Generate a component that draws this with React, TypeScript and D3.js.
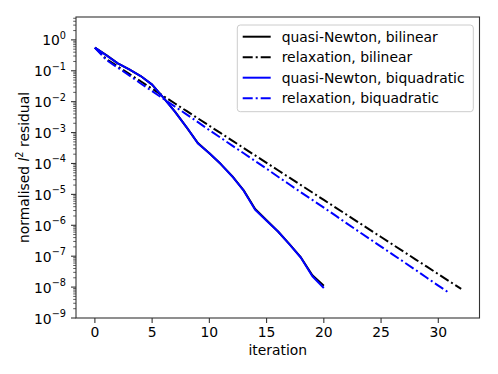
import React from "react";
import * as d3 from "d3";

// iterations and normalised l2 residuals
const qnBilinear = [
  5.62e-1, 3.24e-1, 1.74e-1, 1.1e-1, 6.76e-2, 3.55e-2, 1.32e-2, 4.79e-3, 1.51e-3,
  4.57e-4, 2.14e-4, 9.55e-5, 3.89e-5, 1.35e-5, 3.39e-6, 1.45e-6, 6.31e-7, 2.45e-7,
  9.12e-8, 2.40e-8, 1.10e-8,
];
const relaxBilinear = [
  5.62e-1, 2.4e-1, 1.38e-1, 7.94e-2, 4.57e-2, 2.63e-2, 1.51e-2, 8.71e-3, 5.01e-3,
  2.88e-3, 1.66e-3, 9.55e-4, 5.5e-4, 3.16e-4, 1.82e-4, 1.05e-4, 6.03e-5, 3.47e-5,
  2.0e-5, 1.15e-5, 6.61e-6, 3.8e-6, 2.19e-6, 1.26e-6, 7.24e-7, 4.17e-7, 2.4e-7,
  1.38e-7, 7.94e-8, 4.57e-8, 2.63e-8, 1.51e-8, 8.71e-9,
];
const qnBiquadratic = [
  5.62e-1, 3.16e-1, 1.74e-1, 1.1e-1, 6.76e-2, 3.55e-2, 1.32e-2, 4.68e-3, 1.51e-3,
  4.47e-4, 2.14e-4, 9.55e-5, 3.8e-5, 1.32e-5, 3.16e-6, 1.41e-6, 6.31e-7, 2.4e-7,
  8.91e-8, 2.24e-8, 9.33e-9,
];
const relaxBiquadratic = [
  5.5e-1, 2.24e-1, 1.26e-1, 7.08e-2, 3.89e-2, 2.19e-2, 1.23e-2, 6.92e-3, 3.89e-3,
  2.19e-3, 1.2e-3, 6.76e-4, 3.8e-4, 2.14e-4, 1.2e-4, 6.76e-5, 3.72e-5, 2.09e-5,
  1.17e-5, 6.61e-6, 3.72e-6, 2.09e-6, 1.15e-6, 6.46e-7, 3.63e-7, 2.04e-7, 1.15e-7,
  6.46e-8, 3.63e-8, 2.0e-8, 1.12e-8, 6.31e-9,
];

const seriesNames = [
  "quasi-Newton, bilinear",
  "relaxation, bilinear",
  "quasi-Newton, biquadratic",
  "relaxation, biquadratic",
];
const seriesData = [qnBilinear, relaxBilinear, qnBiquadratic, relaxBiquadratic];
const seriesColors = ["#000000", "#000000", "#0000ff", "#0000ff"];
const seriesDashed = [false, true, false, true];

const xTicks = [0, 5, 10, 15, 20, 25, 30];
const yExponents = [0, -1, -2, -3, -4, -5, -6, -7, -8, -9];

const W = 498;
const H = 374;
const M = { left: 76, right: 479.5, top: 17, bottom: 318 };
const FONT = "DejaVu Sans, sans-serif";
const FS = 13.9;
const DASH = "10,3,2,3";

export default function App() {
  const x = d3.scaleLinear().domain([-1.65, 33.6]).range([M.left, M.right]);
  const y = d3
    .scaleLog()
    .domain([1e-9, Math.pow(10, 0.74)])
    .range([M.bottom, M.top]);

  const line = d3
    .line<number>()
    .x((_, i) => x(i))
    .y((d) => y(d));

  const minor: number[] = [];
  for (let e = -9; e <= 0; e++) {
    for (let k = 2; k <= 9; k++) {
      const v = k * Math.pow(10, e);
      if (v <= y.domain()[1]) minor.push(v);
    }
  }

  const legendRows = [36.7, 57.2, 77.7, 98.2];

  return (
    <svg
      width={W}
      height={H}
      style={{ position: "absolute", left: 0, top: 0, background: "#fff" }}
      fontFamily={FONT}
    >
      <rect width={W} height={H} fill="#fff" />
      <defs>
        <clipPath id="plotclip">
          <rect x={M.left} y={M.top} width={M.right - M.left} height={M.bottom - M.top} />
        </clipPath>
      </defs>
      <g clipPath="url(#plotclip)">
        {seriesData.map((d, i) => (
          <path
            key={i}
            d={line(d) || ""}
            fill="none"
            stroke={seriesColors[i]}
            strokeWidth={2}
            strokeDasharray={seriesDashed[i] ? DASH : undefined}
            strokeLinejoin="round"
          />
        ))}
      </g>
      {/* spines */}
      <rect
        x={M.left}
        y={M.top}
        width={M.right - M.left}
        height={M.bottom - M.top}
        fill="none"
        stroke="#333"
        strokeWidth={1.1}
      />
      {/* x ticks */}
      {xTicks.map((t) => (
        <g key={t}>
          <line x1={x(t)} x2={x(t)} y1={M.bottom} y2={M.bottom + 5} stroke="#333" strokeWidth={1.1} />
          <text x={x(t)} y={337} textAnchor="middle" fontSize={FS} fill="#000">
            {t}
          </text>
        </g>
      ))}
      {/* y minor ticks */}
      {minor.map((v, i) => (
        <line key={i} x1={M.left - 2.8} x2={M.left} y1={y(v)} y2={y(v)} stroke="#333" strokeWidth={0.8} />
      ))}
      {/* y major ticks */}
      {yExponents.map((e) => {
        const yy = y(Math.pow(10, e));
        return (
          <g key={e}>
            <line x1={M.left - 5} x2={M.left} y1={yy} y2={yy} stroke="#333" strokeWidth={1.1} />
            <text x={66} y={yy + 5.5} textAnchor="end" fontSize={FS} fill="#000">
              10
              <tspan fontSize={FS * 0.7} dy={-6.5}>
                {e === 0 ? "0" : "\u2212" + Math.abs(e)}
              </tspan>
            </text>
          </g>
        );
      })}
      {/* axis labels */}
      <text x={(M.left + M.right) / 2} y={355} textAnchor="middle" fontSize={FS} fill="#000">
        iteration
      </text>
      <text
        transform={`translate(29,${(M.top + M.bottom) / 2}) rotate(-90)`}
        textAnchor="middle"
        fontSize={FS}
        fill="#000"
      >
        normalised <tspan fontStyle="italic">l</tspan>
        <tspan fontSize={FS * 0.7} dy={-6}>2</tspan>
        <tspan dy={6}> residual</tspan>
      </text>
      {/* legend */}
      <rect
        x={237.3}
        y={25}
        width={236}
        height={86.7}
        rx={3}
        fill="#fff"
        fillOpacity={0.8}
        stroke="#cccccc"
        strokeWidth={1}
      />
      {seriesNames.map((name, i) => (
        <g key={name}>
          <line
            x1={242.7}
            x2={270.7}
            y1={legendRows[i]}
            y2={legendRows[i]}
            stroke={seriesColors[i]}
            strokeWidth={2}
            strokeDasharray={seriesDashed[i] ? DASH : undefined}
          />
          <text x={281.7} y={legendRows[i] + 5} fontSize={FS} fill="#000">
            {name}
          </text>
        </g>
      ))}
    </svg>
  );
}
